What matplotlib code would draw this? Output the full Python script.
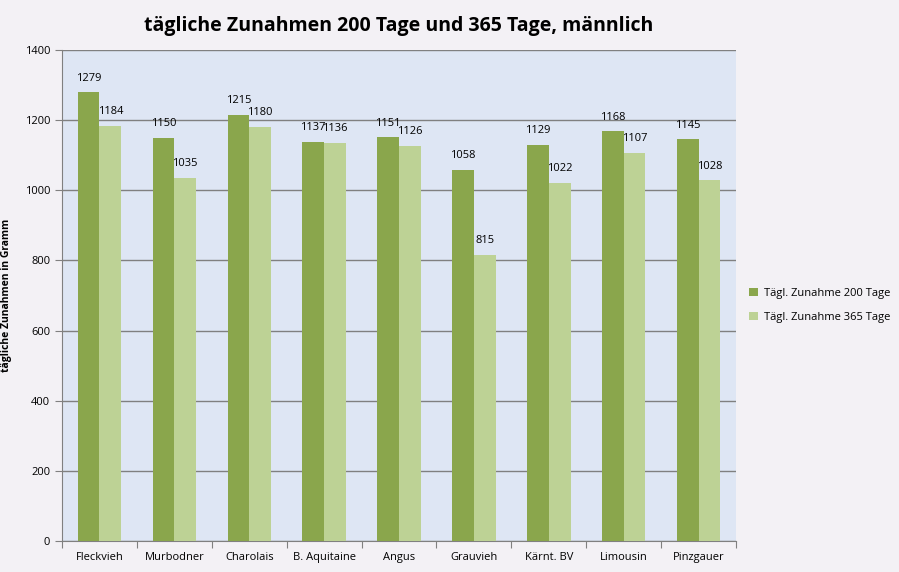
import numpy as np
import matplotlib.pyplot as plt

plt.rcParams['font.family'] = ['Open Sans', 'DejaVu Sans']

rassen = ['Fleckvieh', 'Murbodner', 'Charolais', 'B. Aquitaine', 'Angus',
          'Grauvieh', 'Kärnt. BV', 'Limousin', 'Pinzgauer']
zunahme_200 = [1279, 1150, 1215, 1137, 1151, 1058, 1129, 1168, 1145]
zunahme_365 = [1184, 1035, 1180, 1136, 1126, 815, 1022, 1107, 1028]

fig = plt.figure(figsize=(8.99, 5.72), dpi=100, facecolor='#f3f1f5')
ax = fig.add_axes([0.069, 0.0542, 0.7497, 0.8584])
ax.set_facecolor('#dee6f4')

x = np.arange(len(rassen))
w = 0.29
ax.bar(x - w / 2, zunahme_200, w, color='#8aa64c', label='Tägl. Zunahme 200 Tage', zorder=3)
ax.bar(x + w / 2, zunahme_365, w, color='#bdd295', label='Tägl. Zunahme 365 Tage', zorder=3)

for xi, v in zip(x, zunahme_200):
    ax.text(xi - w / 2, v + 25, str(v), ha='center', va='bottom', fontsize=8, zorder=4)
for xi, v in zip(x, zunahme_365):
    ax.text(xi + w / 2, v + 25, str(v), ha='center', va='bottom', fontsize=8, zorder=4)

ax.set_xlim(-0.5, len(rassen) - 0.5)
ax.set_ylim(0, 1400)
ax.set_yticks(range(0, 1401, 200))
ax.set_xticks(np.arange(-0.5, len(rassen), 1))
ax.set_xticklabels([])
ax.set_xticks(x, minor=True)
ax.set_xticklabels(rassen, minor=True)
ax.tick_params(axis='x', which='minor', length=0, labelsize=8, pad=8)
ax.tick_params(axis='x', which='major', length=5, color='#808080')
ax.tick_params(axis='y', length=5, color='#808080', labelsize=8)
ax.yaxis.grid(True, color='#808080', linewidth=1, zorder=0)
for s in ['top', 'right']:
    ax.spines[s].set_visible(False)
for s in ['left', 'bottom']:
    ax.spines[s].set_color('#808080')

ax.set_ylabel('tägliche Zunahmen in Gramm', fontsize=7.5, fontweight='bold')
ax.yaxis.set_label_coords(-0.074, 0.5)
ax.set_title('tägliche Zunahmen 200 Tage und 365 Tage, männlich',
             fontsize=14, fontweight='bold', pad=14)

ax.legend(loc='center left', bbox_to_anchor=(1.005, 0.48), frameon=False,
          fontsize=8, handlelength=0.8, handleheight=0.8, handletextpad=0.5,
          labelspacing=1.2)

fig.savefig('out.png', dpi=100, facecolor=fig.get_facecolor())
